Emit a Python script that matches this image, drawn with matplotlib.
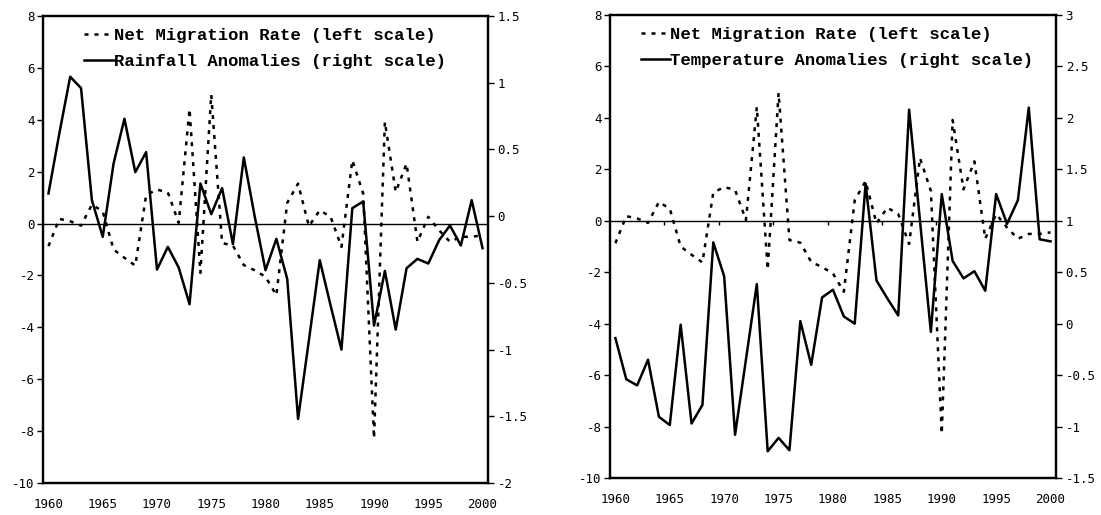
import matplotlib
matplotlib.use("Agg")
import matplotlib.pyplot as plt
from matplotlib.lines import Line2D
import numpy as np

# ── Data ──────────────────────────────────────────────────────────────────────
years = np.arange(1960, 2001)

migration = [-0.87, 0.18, 0.09, -0.08, 0.73, 0.47, -1.0, -1.32, -1.62, 1.1,
             1.31, 1.2, 0.03, 4.42, -1.9, 4.97, -0.75, -0.85, -1.6, -1.8,
             -2.05, -2.76, 0.8, 1.54, -0.1, 0.51, 0.26, -0.9, 2.44, 1.16,
             -8.28, 3.92, 1.22, 2.31, -0.7, 0.26, -0.26, -0.7, -0.51, -0.51,
             -0.45]

rainfall = [0.17, 0.62, 1.045, 0.96, 0.12, -0.155, 0.395, 0.73, 0.33, 0.48,
            -0.40, -0.23, -0.385, -0.66, 0.245, 0.015, 0.21, -0.21, 0.44, 0.0,
            -0.405, -0.17, -0.47, -1.52, -0.93, -0.33, -0.67, -1.0, 0.06, 0.11,
            -0.82, -0.41, -0.85, -0.39, -0.32, -0.355, -0.18, -0.07, -0.22, 0.12,
            -0.24]

temperature = [-0.14, -0.54, -0.60, -0.35, -0.905, -0.985, -0.01, -0.97, -0.79, 0.79,
               0.46, -1.08, -0.35, 0.385, -1.24, -1.11, -1.23, 0.025, -0.40, 0.255,
               0.33, 0.07, 0.0, 1.36, 0.42, 0.245, 0.08, 2.08, 1.0, -0.08,
               1.26, 0.61, 0.44, 0.51, 0.32, 1.26, 0.97, 1.2, 2.10, 0.82,
               0.80]

xtick_years = [1960, 1965, 1970, 1975, 1980, 1985, 1990, 1995, 2000]
left_ticks = [-10, -8, -6, -4, -2, 0, 2, 4, 6, 8]
rain_ticks = [-2, -1.5, -1, -0.5, 0, 0.5, 1, 1.5]
temp_ticks = [-1.5, -1, -0.5, 0, 0.5, 1, 1.5, 2, 2.5, 3]

mig_label = "Net Migration Rate (left scale)"
rain_label = "Rainfall Anomalies (right scale)"
temp_label = "Temperature Anomalies (right scale)"

# ── Style ─────────────────────────────────────────────────────────────────────
plt.rcParams.update({
    "font.family": "DejaVu Sans Mono",
    "font.size": 9,
    "axes.unicode_minus": False,
})

LEG_FONT = "Liberation Mono"
DASH = (0, (1.6, 2.4))
LW = 1.8


def fmt(v):
    return f"{v:g}"


def make_panel(fig, rect, right_vals, right_ticks, right_label, zero_ticks, leg_x):
    ax = fig.add_axes(rect)
    ax2 = ax.twinx()

    ax.axhline(0, color="black", linewidth=1.0, zorder=1)
    ax.plot(years, migration, color="black", linewidth=LW,
            linestyle=DASH, zorder=3)
    ax2.plot(years, right_vals, color="black", linewidth=LW, zorder=3)

    # small category ticks sitting on the zero line (right panel only)
    if zero_ticks:
        tick_x = years[4::5][:-1] + 0.5
        ax.vlines(tick_x, -0.15, 0, color="black", linewidth=1.0)

    ax.set_xlim(1959.5, 2000.5)
    ax.set_ylim(-10, 8)
    ax.set_yticks(left_ticks)
    ax.set_yticklabels([fmt(v) for v in left_ticks])
    ax.set_xticks(xtick_years)
    ax.set_xticklabels([str(y) for y in xtick_years])
    ax.tick_params(axis="x", length=0, pad=11, labelsize=9)
    ax.tick_params(axis="y", direction="out", length=4, width=1.0, pad=2,
                   labelsize=9)

    ax2.set_ylim(right_ticks[0], right_ticks[-1])
    ax2.set_yticks(right_ticks)
    ax2.set_yticklabels([fmt(v) for v in right_ticks])
    ax2.tick_params(axis="y", direction="out", length=4, width=1.0, pad=3,
                    labelsize=9)

    for a in (ax, ax2):
        for s in a.spines.values():
            s.set_linewidth(1.6)

    handles = [Line2D([], [], color="black", linewidth=LW, linestyle=DASH),
               Line2D([], [], color="black", linewidth=LW)]
    ax2.legend(handles, [mig_label, right_label], loc="upper left",
               bbox_to_anchor=(leg_x, 0.982),
               frameon=False, borderpad=0.2, borderaxespad=0,
               handlelength=1.7, handletextpad=0.0, labelspacing=0.65,
               prop={"family": LEG_FONT, "size": 12.4, "weight": "bold"})
    return ax, ax2


fig = plt.figure(figsize=(11.01, 5.15), dpi=100)

make_panel(fig, [0.0391, 0.0621, 0.4041, 0.9068],
           rainfall, rain_ticks, rain_label, zero_ticks=False, leg_x=0.085)
make_panel(fig, [0.5540, 0.0718, 0.4051, 0.8991],
           temperature, temp_ticks, temp_label, zero_ticks=True, leg_x=0.062)

fig.savefig("out.png", dpi=100)
